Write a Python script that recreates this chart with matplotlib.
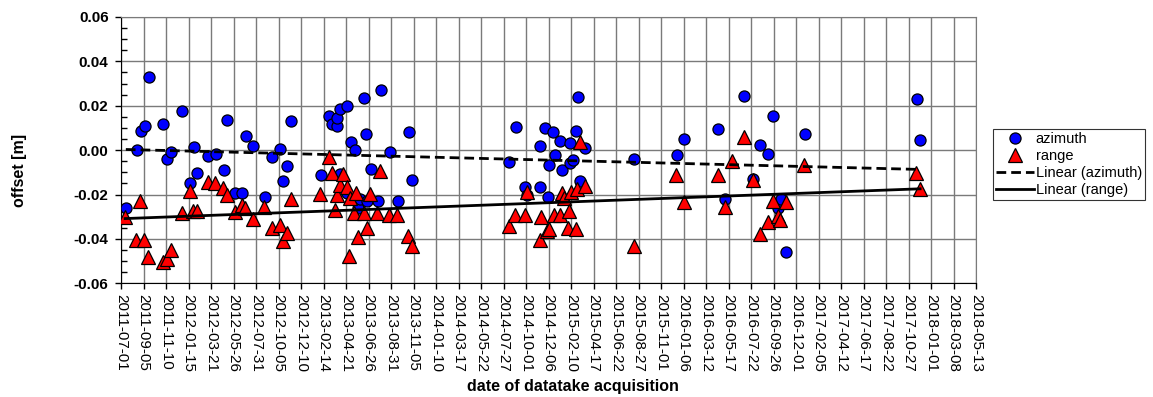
import numpy as np
import matplotlib
matplotlib.use('Agg')
import matplotlib.pyplot as plt
import matplotlib.dates as mdates

plt.rcParams['font.family'] = ['Liberation Sans', 'DejaVu Sans']

start = np.datetime64('2011-07-01')

# azimuth offsets: days after 2011-07-01, offset [m]
az_days = [14, 46, 58, 69, 82, 124, 136, 147, 180, 202, 213, 224, 255, 278, 301,
           312, 333, 356, 366, 388, 421, 444, 466, 476, 487, 498, 586, 611, 618,
           632, 634, 641, 643, 663, 663, 674, 685, 694, 700, 722, 713, 719, 733,
           755, 763, 790, 812, 844, 854, 1138, 1158, 1184, 1191, 1228, 1228,
           1245, 1252, 1254, 1267, 1273, 1289, 1293, 1316, 1318, 1326, 1335,
           1340, 1345, 1361, 1506, 1631, 1652, 1752, 1773, 1828, 1853, 1875,
           1897, 1913, 1928, 1936, 1950, 2007, 2335, 2344]
az_off = [-0.026, 0.000, 0.0086, 0.0111, 0.033, 0.012, -0.0038, -0.0008, 0.0177,
          -0.0146, 0.0012, -0.0101, -0.0027, -0.0017, -0.0089, 0.0137, -0.0194,
          -0.0191, 0.0063, 0.0020, -0.021, -0.0029, 0.0003, -0.0141, -0.0071,
          0.0132, -0.0113, 0.0155, 0.0119, 0.0107, 0.0144, 0.0185, -0.0107,
          0.0201, -0.0194, 0.0036, 0.000, -0.026, -0.022, -0.023, 0.0233, 0.0075,
          -0.0084, -0.0231, 0.0272, -0.0009, -0.0231, 0.0083, -0.0134, -0.0054,
          0.0105, -0.0164, -0.0201, 0.0020, -0.0168, 0.0101, -0.0212, -0.0068,
          0.0083, -0.0023, 0.0042, -0.0089, 0.0032, -0.0056, -0.0044, 0.0087,
          0.0239, -0.0137, 0.0009, -0.0041, -0.0024, 0.0050, 0.0095, -0.0221,
          0.0242, -0.0131, 0.0021, -0.0018, 0.0155, -0.0261, -0.0221, -0.046,
          0.0072, 0.0230, 0.0044]

# range offsets
rg_days = [12, 44, 57, 68, 80, 122, 134, 147, 179, 201, 211, 223, 254, 277, 299,
           312, 333, 354, 365, 386, 420, 442, 465, 475, 486, 498, 584, 611, 618,
           629, 633, 643, 651, 663, 668, 673, 690, 682, 694, 714, 722, 731, 751,
           761, 786, 809, 841, 854, 1139, 1157, 1184, 1191, 1228, 1233, 1250,
           1255, 1271, 1289, 1293, 1299, 1310, 1314, 1320, 1335, 1338, 1345,
           1360, 1506, 1628, 1652, 1751, 1773, 1793, 1828, 1853, 1874, 1897,
           1912, 1928, 1934, 1950, 2004, 2332, 2344]
rg_off = [-0.0302, -0.0407, -0.0231, -0.0407, -0.0482, -0.0502, -0.0491, -0.0449,
          -0.0284, -0.0182, -0.0276, -0.0273, -0.0144, -0.0150, -0.0171, -0.0201,
          -0.0279, -0.0249, -0.0261, -0.0309, -0.0258, -0.0351, -0.0339, -0.0409,
          -0.0374, -0.0219, -0.0199, -0.0031, -0.0103, -0.0268, -0.0201, -0.0156,
          -0.0107, -0.0164, -0.0477, -0.0216, -0.0193, -0.0283, -0.0392, -0.0281,
          -0.0350, -0.0197, -0.0284, -0.0095, -0.0291, -0.0291, -0.0389, -0.0432,
          -0.0344, -0.0294, -0.0291, -0.0188, -0.0403, -0.0299, -0.0366, -0.0356,
          -0.0291, -0.0291, -0.0194, -0.0216, -0.0351, -0.0272, -0.019, -0.0356,
          -0.0176, 0.0036, -0.0161, -0.0434, -0.0114, -0.0234, -0.0110, -0.0254,
          -0.0047, 0.0057, -0.0134, -0.0379, -0.0326, -0.0227, -0.0296, -0.0314,
          -0.0234, -0.0066, -0.0101, -0.0174]

# linear trend coefficients (offset at start [m], slope [m/day])
az_trend = (0.00035, -3.86e-6)
rg_trend = (-0.0309, 5.75e-6)

az_days = np.array(az_days)
rg_days = np.array(rg_days)
az_dates = start + az_days.astype('timedelta64[D]')
rg_dates = start + rg_days.astype('timedelta64[D]')

fig = plt.figure(figsize=(11.53, 3.97), dpi=100)
ax = fig.add_axes([0.105, 0.2864, 0.7415, 0.6708])

# gridlines first so the markers sit on top
ax.set_axisbelow(True)
ax.grid(True, which='major', color='#7a7a7a', linewidth=1)

ax.plot(az_dates, az_off, 'o', markersize=8, markerfacecolor='#0000ff',
        markeredgecolor='black', markeredgewidth=0.9, label='azimuth', zorder=3)
ax.plot(rg_dates, rg_off, '^', markersize=9.5, markerfacecolor='#ff0000',
        markeredgecolor='black', markeredgewidth=0.9, label='range', zorder=4)

# linear trends over the span of each series
for d, (b, k), ls, lab in [(az_days, az_trend, (0, (3.5, 1.8)), 'Linear (azimuth)'),
                           (rg_days, rg_trend, '-', 'Linear (range)')]:
    xs = np.array([d.min(), d.max()])
    ax.plot(start + xs.astype('timedelta64[D]'), b + k * xs, linestyle=ls,
            color='black', linewidth=2, label=lab, zorder=5)

ticks = start + (np.arange(39) * 66).astype('timedelta64[D]')
ax.set_xticks(ticks)
ax.xaxis.set_major_formatter(mdates.DateFormatter('%Y-%m-%d'))
ax.set_xlim(ticks[0], ticks[-1])
plt.setp(ax.get_xticklabels(), rotation=270, fontsize=11, ha='center')

ax.set_ylim(-0.06, 0.06)
ax.set_yticks(np.arange(-0.06, 0.061, 0.02))
ax.set_yticks(np.arange(-0.06, 0.061, 0.005), minor=True)
ax.yaxis.set_major_formatter(plt.FuncFormatter(lambda v, p: '%.2f' % v))
for t in ax.get_yticklabels():
    t.set_fontweight('bold')
    t.set_fontsize(11)
ax.tick_params(axis='both', which='major', direction='out', length=4, width=1)
ax.tick_params(axis='y', which='major', pad=5)
ax.tick_params(axis='y', which='minor', direction='in', length=4, width=1)
for s in ax.spines.values():
    s.set_color('#7a7a7a')
ax.spines['left'].set_color('black')
ax.spines['bottom'].set_color('black')

ax.set_ylabel('offset [m]', fontsize=11.5, fontweight='bold', va='center')
ax.yaxis.set_label_coords(-0.119, 0.425)
ax.set_xlabel('date of datatake acquisition', fontsize=11.5, fontweight='bold')
ax.xaxis.set_label_coords(0.529, -0.387)
ax.xaxis.label.set_va('center')

leg = fig.legend(loc='upper left', bbox_to_anchor=(0.861, 0.675), fontsize=10.5,
                 frameon=True, fancybox=False, handlelength=2.6, handletextpad=0.15,
                 labelspacing=0.2, borderpad=0.2, borderaxespad=0)
leg.get_frame().set_edgecolor('black')
leg.get_frame().set_linewidth(0.8)

fig.savefig('out.png', dpi=100)
